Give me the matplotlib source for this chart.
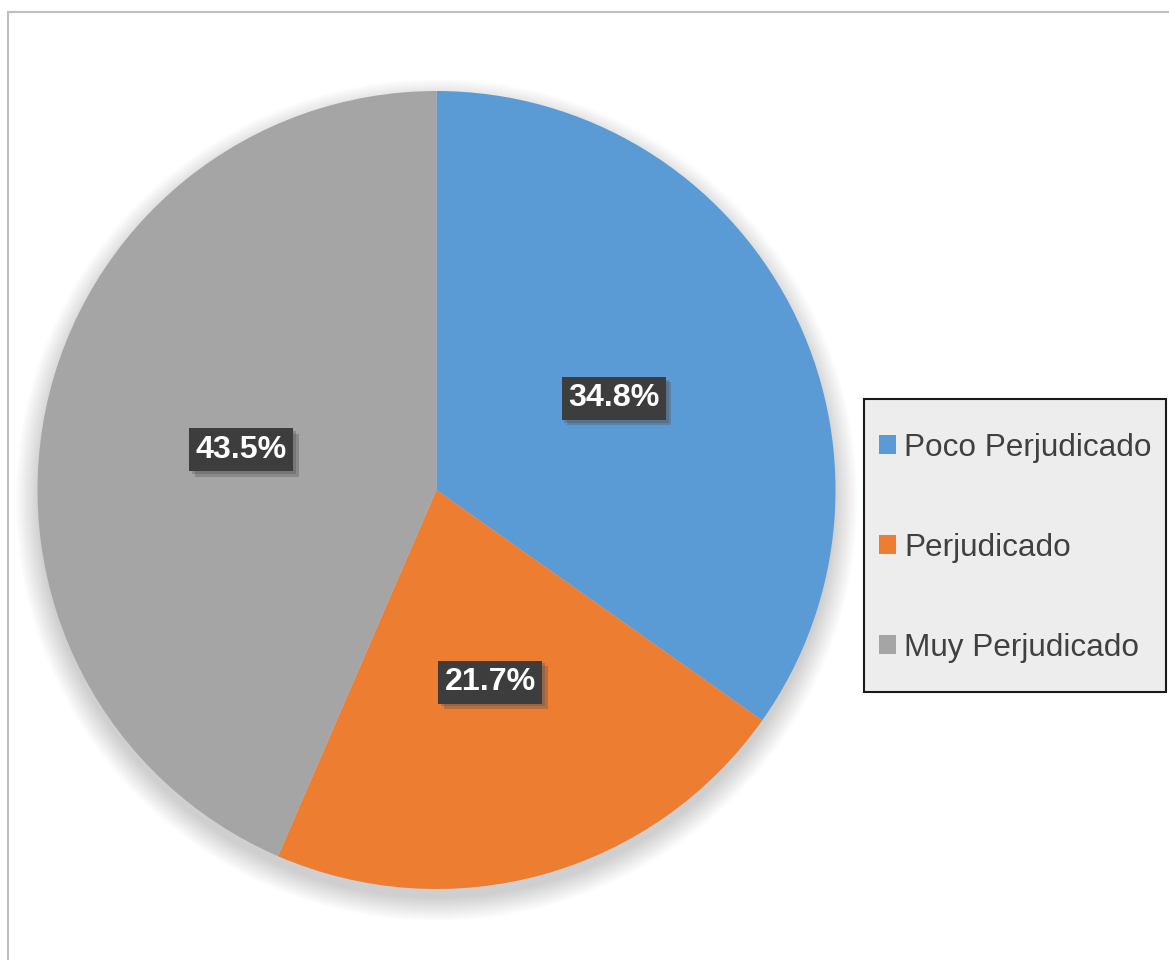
import matplotlib
matplotlib.use("Agg")
import matplotlib.pyplot as plt
from matplotlib.patches import Circle, Rectangle
import matplotlib.patheffects as pe

categories = ["Poco Perjudicado", "Perjudicado", "Muy Perjudicado"]
values = [34.8, 21.7, 43.5]
colors = ["#5B9BD5", "#ED7D31", "#A5A5A5"]

W, H = 1169, 960
fig = plt.figure(figsize=(W / 100, H / 100), dpi=100)
fig.patch.set_facecolor("white")
ax = fig.add_axes([0, 0, 1, 1])
ax.set_xlim(0, W)
ax.set_ylim(0, H)
ax.set_aspect("equal")
ax.axis("off")

# outer chart border (top and left visible)
ax.plot([8, W + 5], [H - 12, H - 12], color="#bfbfbf", lw=1.5, zorder=1)
ax.plot([8, 8], [H - 12, -5], color="#bfbfbf", lw=1.5, zorder=1)

cx, cy, R = 436.5, H - 490, 399

# soft shadow around pie
for i in range(24):
    ax.add_patch(Circle((cx, cy - 10), R + 22 - i, facecolor="black",
                        edgecolor="none", alpha=0.008, zorder=2))

wedges, texts, autotexts = ax.pie(
    values, colors=colors, startangle=90, counterclock=False,
    center=(cx, cy), radius=R, autopct=lambda p: f"{p:.1f}%",
    pctdistance=0.5, wedgeprops=dict(linewidth=0),
    textprops=dict(color="white", fontsize=23.2, fontweight="bold",
                   family="Liberation Sans"))
for w in wedges:
    w.set_zorder(3)
for t in autotexts:
    t.set_zorder(6)
    t.set_bbox(dict(boxstyle="square,pad=0.2", facecolor="#3d3d3d",
                    edgecolor="none",
                    path_effects=[pe.SimplePatchShadow(offset=(4, -4), shadow_rgbFace="#555555", alpha=0.35),
                                  pe.SimplePatchShadow(offset=(2, -2), shadow_rgbFace="#555555", alpha=0.35),
                                  pe.Normal()]))

ax.set_xlim(0, W)
ax.set_ylim(0, H)

# legend box
ax.add_patch(Rectangle((864, H - 692), 1166 - 864, 692 - 399,
                       facecolor="#ededed", edgecolor="#1a1a1a", lw=1.5, zorder=4))
leg = ax.legend(wedges, categories, loc="center left",
                bbox_to_anchor=(879 / W, 1 - 548 / H),
                frameon=False,
                prop=dict(family="Liberation Sans", size=22.7),
                labelcolor="#404040", handlelength=0.54, handleheight=0.54,
                handletextpad=0.26, labelspacing=2.22, borderpad=0,
                borderaxespad=0)
leg.set_zorder(7)

fig.savefig("out.png", dpi=100)
